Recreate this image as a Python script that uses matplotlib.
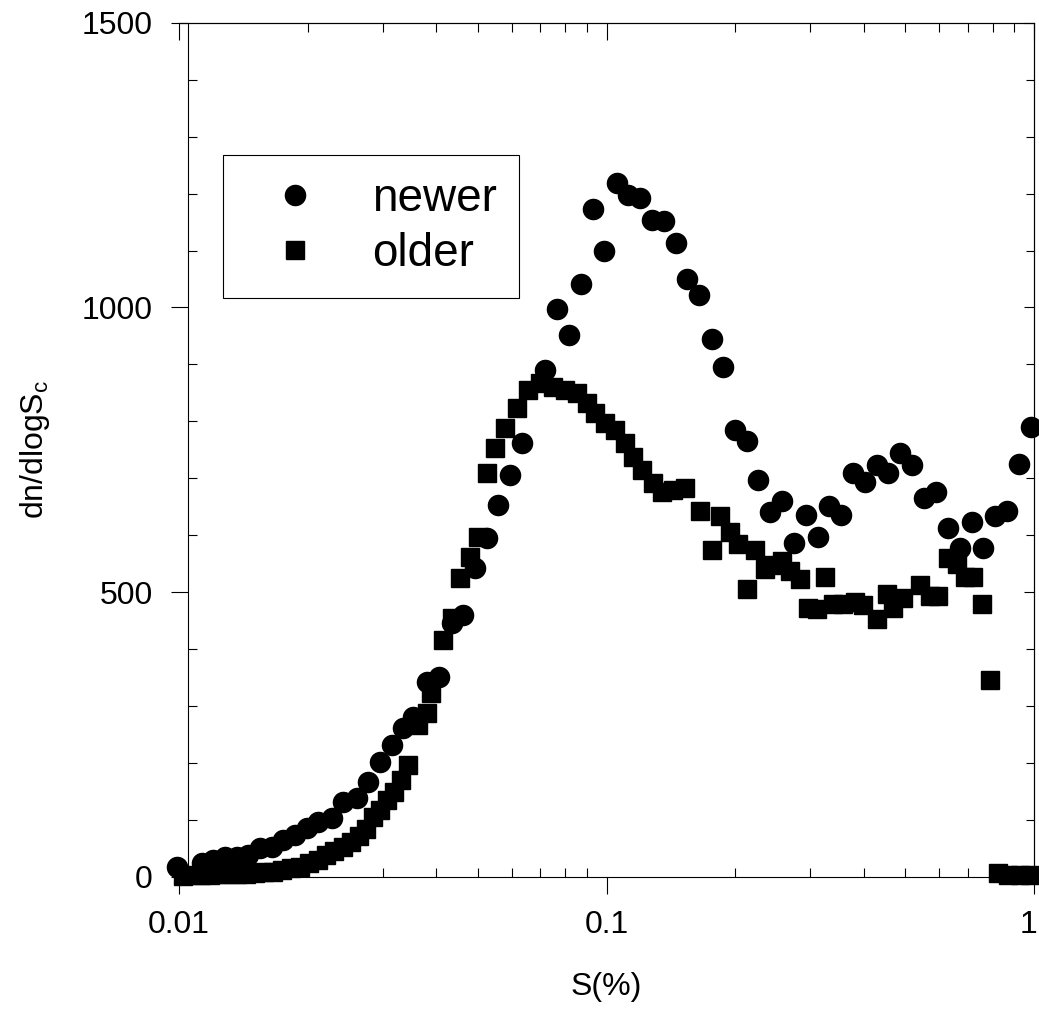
import matplotlib
matplotlib.use("Agg")
import matplotlib.pyplot as plt
import matplotlib.transforms as mtransforms
import numpy as np
from matplotlib.ticker import MultipleLocator, LogLocator, NullFormatter

# supersaturation S(%) and dn/dlogSc for the two samples
s_newer = [0.0099, 0.01132, 0.0120, 0.0128, 0.0137, 0.0145, 0.0155, 0.0165, 0.0175, 0.0187,
           0.0199, 0.0211, 0.0228, 0.0242, 0.0261, 0.0277, 0.0295, 0.0315, 0.0334, 0.0353,
           0.0380, 0.0406, 0.0435, 0.0462, 0.0493, 0.0525, 0.0558, 0.0595, 0.0634, 0.0718,
           0.0766, 0.0817, 0.0872, 0.0930, 0.0987, 0.1058, 0.1123, 0.1198, 0.1278, 0.1363,
           0.1454, 0.1543, 0.1646, 0.1766, 0.1873, 0.1998, 0.2132, 0.2262, 0.2413, 0.2574,
           0.2746, 0.2930, 0.3125, 0.3316, 0.3537, 0.3773, 0.4025, 0.4294, 0.4556, 0.4860,
           0.5184, 0.5530, 0.5899, 0.6293, 0.6713, 0.7161, 0.7598, 0.8104, 0.8647, 0.9224,
           0.984]
n_newer = [18, 25, 30, 35, 35, 39, 51, 53, 65, 74,
           86, 97, 104, 132, 139, 167, 202, 232, 262, 281,
           342, 351, 446, 460, 542, 595, 653, 706, 762, 890,
           997, 952, 1041, 1173, 1099, 1218, 1197, 1192, 1154, 1152,
           1113, 1050, 1022, 945, 895, 784, 765, 697, 641, 660,
           586, 636, 597, 652, 636, 710, 693, 723, 710, 745,
           723, 666, 676, 613, 577, 624, 578, 634, 643, 726,
           790]

s_older = [0.01022, 0.01072, 0.01126, 0.01182, 0.01240, 0.01302, 0.01367, 0.01435, 0.01506, 0.01581,
           0.01659, 0.01741, 0.01828, 0.01919, 0.02014, 0.02114, 0.02208, 0.02305, 0.02418, 0.02525,
           0.02637, 0.02738, 0.02843, 0.02953, 0.03066, 0.03184, 0.03306, 0.03433,
           0.03623, 0.03803, 0.03886, 0.04146, 0.04352,
           0.04544, 0.04795, 0.05005, 0.05254, 0.05486, 0.05788, 0.06175, 0.06552, 0.06989, 0.07496,
           0.07998, 0.08531, 0.09003, 0.09400, 0.09920, 0.1047, 0.1105, 0.1153, 0.1211, 0.1285,
           0.1349, 0.1431, 0.1526, 0.1655, 0.1766, 0.1843, 0.1945, 0.2031, 0.2132, 0.2225,
           0.2349, 0.2452, 0.2574, 0.2687, 0.2836, 0.2960, 0.3108, 0.3244, 0.3387, 0.3575,
           0.3814, 0.3981, 0.4294, 0.4531, 0.4680, 0.4939, 0.5412, 0.5712, 0.5963, 0.6293,
           0.6605, 0.6896, 0.7199, 0.7557, 0.7889, 0.8237, 0.8693, 0.9275, 0.9787]
n_older = [2, 3, 4, 4, 5, 5, 6, 6, 7, 8,
           9, 12, 15, 18, 24, 30, 38, 45, 53, 62,
           72, 85, 105, 118, 135, 150, 170, 197,
           267, 288, 323, 416, 455,
           525, 562, 597, 709, 753, 788, 823, 855, 867, 860,
           855, 850, 832, 815, 797, 785, 762, 737, 715, 692,
           676, 680, 683, 643, 574, 634, 605, 584, 505, 574,
           540, 548, 554, 537, 523, 473, 470, 527, 480, 480,
           483, 477, 453, 497, 473, 490, 513, 493, 493, 560,
           550, 527, 527, 480, 346, 7, 3, 3, 3]

x_ticks = [0.01, 0.1, 1]
x_ticklabels = ["0.01", "0.1", "1"]
y_ticks = [0, 500, 1000, 1500]

plt.rcParams["font.family"] = ["Liberation Sans", "DejaVu Sans"]
plt.rcParams["mathtext.fontset"] = "custom"
plt.rcParams["mathtext.rm"] = "Liberation Sans"
plt.rcParams["mathtext.it"] = "Liberation Sans:italic"

fig = plt.figure(figsize=(10.39, 10.10), dpi=100)
ax = fig.add_axes([179 / 1039, 133 / 1010, 855 / 1039, 854.3 / 1010])

ax.plot(s_newer, n_newer, "o", color="black", ms=14.5, clip_on=False, label="newer", zorder=3)
ax.plot(s_older, n_older, "s", color="black", ms=13.5, clip_on=False, label="older", zorder=3)

ax.set_xscale("log")
ax.set_xlim(0.01, 1)
ax.set_ylim(0, 1500)
ax.spines["left"].set_position(("axes", 0.01))
for sp in ax.spines.values():
    sp.set_linewidth(0.8)

ax.set_xticks(x_ticks)
ax.set_xticklabels(x_ticklabels)
ax.xaxis.set_minor_locator(LogLocator(base=10, subs=np.arange(2, 10)))
ax.xaxis.set_minor_formatter(NullFormatter())
ax.set_yticks(y_ticks)
ax.yaxis.set_minor_locator(MultipleLocator(100))

ax.tick_params(which="major", direction="out", length=12, width=0.8, labelsize=23,
               top=False, right=False)
ax.tick_params(which="minor", direction="in", length=6.5, width=0.8, top=False, right=False)
ax.tick_params(axis="x", which="major", pad=12)
ax.tick_params(axis="y", which="major", pad=13)

# keep the last x label inside the figure edge
last = ax.get_xticklabels()[-1]
last.set_transform(last.get_transform()
                   + mtransforms.ScaledTranslation(-0.05, 0, fig.dpi_scale_trans))

# inward ticks on the top and right frame
top = ax.secondary_xaxis("top")
top.set_xticks(x_ticks)
top.xaxis.set_minor_locator(LogLocator(base=10, subs=np.arange(2, 10)))
top.xaxis.set_major_formatter(NullFormatter())
top.xaxis.set_minor_formatter(NullFormatter())
top.tick_params(which="major", direction="in", length=12, width=0.8)
top.tick_params(which="minor", direction="in", length=6.5, width=0.8)
top.spines["top"].set_linewidth(0.8)

right = ax.secondary_yaxis("right")
right.set_yticks(y_ticks)
right.yaxis.set_minor_locator(MultipleLocator(100))
right.yaxis.set_major_formatter(NullFormatter())
right.tick_params(which="major", direction="in", length=7, width=0.8)
right.tick_params(which="minor", direction="in", length=6, width=0.8)
right.spines["right"].set_linewidth(0.8)

ax.set_xlabel("S(%)", fontsize=23)
ax.xaxis.set_label_coords(0.5, -0.111)
ax.set_ylabel("dn/dlogS$_\\mathrm{c}$", fontsize=23)
ax.yaxis.set_label_coords(-0.149, 0.5)

leg = ax.legend(loc="upper left", bbox_to_anchor=(0.051, 0.845), fontsize=33,
                frameon=True, fancybox=False, edgecolor="black", framealpha=1,
                borderaxespad=0, borderpad=0.48, labelspacing=0.24,
                handlelength=2.18, handletextpad=0.61, numpoints=1)
leg.get_frame().set_linewidth(0.8)

fig.savefig("out.png", dpi=100)
